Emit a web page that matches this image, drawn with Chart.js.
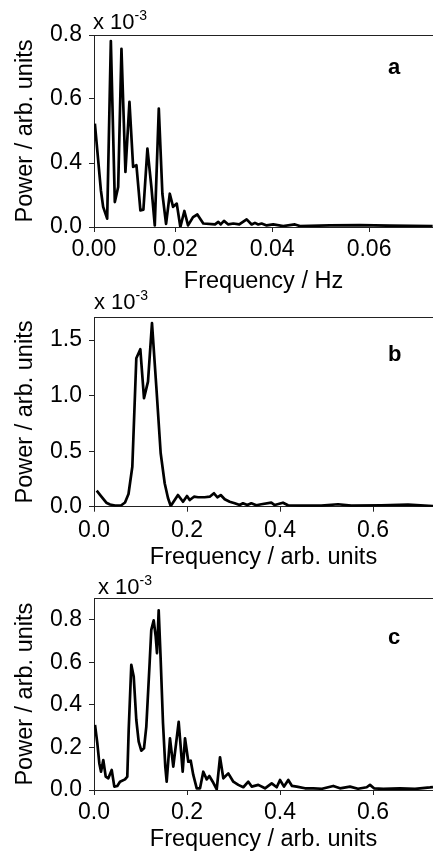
<!DOCTYPE html>
<html><head><meta charset="utf-8">
<script src="https://cdn.jsdelivr.net/npm/chart.js@4/dist/chart.umd.min.js"></script>
<style>
html,body{margin:0;padding:0;background:#fff;width:433px;height:851px;overflow:hidden;position:relative;}
canvas{position:absolute;left:0;}
.t{position:absolute;font-family:"Liberation Sans",Arial,sans-serif;color:#000;white-space:nowrap;line-height:1;}
.m{font-size:22px}
.s{font-size:14px;position:relative;top:-9.5px}
.l{font-size:22px;font-weight:bold}
</style></head><body>
<canvas id="ca" width="433" height="296" style="top:0px"></canvas>
<canvas id="cb" width="433" height="276" style="top:296px"></canvas>
<canvas id="cc" width="433" height="282" style="top:572px"></canvas>
<div class="t m" style="left:93px;top:11.4px">x 10<span class="s">-3</span></div>
<div class="t m" style="left:94px;top:291.4px">x 10<span class="s">-3</span></div>
<div class="t m" style="left:98px;top:576.4px">x 10<span class="s">-3</span></div>
<div class="t l" style="left:388px;top:56.4px">a</div>
<div class="t l" style="left:388px;top:343.4px">b</div>
<div class="t l" style="left:388px;top:626.4px">c</div>
<script>
// ---- Panel a ----
const freqA = [0.00338,0.00462,0.00509,0.00592,0.00668,0.0075,0.00819,0.00887,0.00969,0.01052,0.01128,0.01196,0.01278,0.0134,0.01423,0.01505,0.01575,0.01658,0.01732,0.01808,0.01885,0.01953,0.02029,0.02103,0.02186,0.02262,0.02365,0.02454,0.02577,0.02819,0.02887,0.02936,0.03004,0.03093,0.03196,0.0332,0.03472,0.03575,0.03643,0.03711,0.03781,0.03885,0.04021,0.04227,0.04468,0.04571,0.0519,0.05808,0.06427,0.07313];
const powerA = [0.323,0.115,0.063,0.026,0.581,0.078,0.125,0.557,0.172,0.391,0.188,0.193,0.052,0.054,0.245,0.125,0.005,0.370,0.104,0.010,0.104,0.063,0.073,0.000,0.050,0.005,0.031,0.039,0.011,0.008,0.016,0.008,0.019,0.008,0.011,0.008,0.024,0.008,0.013,0.008,0.011,0.005,0.008,0.003,0.008,0.003,0.005,0.006,0.004,0.003];
const xRangeA = [0.0032, 0.0732];
const xTicksA = [0.0032, 0.02, 0.04, 0.06];
const xTickLabelsA = ['0.00','0.02','0.04','0.06'];
const yMaxA = 0.6;
const yTicksA = [0, 0.2, 0.4, 0.6];
const yTickLabelsA = ['0.0','0.4','0.6','0.8'];

// ---- Panel b ----
const freqB = [0.0058,0.0151,0.0265,0.0344,0.0452,0.0587,0.0667,0.0742,0.0824,0.0910,0.0996,0.1075,0.1161,0.1247,0.1340,0.1434,0.1520,0.1591,0.1650,0.1806,0.1914,0.2000,0.2058,0.2150,0.2237,0.2380,0.2488,0.2580,0.2652,0.2725,0.2811,0.2918,0.3026,0.3133,0.3204,0.3297,0.3383,0.3490,0.3598,0.3813,0.3886,0.4064,0.4172,0.4458,0.4888,0.5247,0.5533,0.6178,0.6753,0.7290];
const powerB = [0.144,0.096,0.036,0.020,0.011,0.013,0.038,0.114,0.360,1.337,1.418,0.977,1.126,1.652,1.081,0.481,0.211,0.078,0.006,0.105,0.045,0.096,0.060,0.090,0.085,0.085,0.090,0.121,0.085,0.105,0.067,0.045,0.031,0.015,0.031,0.015,0.031,0.013,0.022,0.036,0.015,0.036,0.013,0.009,0.009,0.022,0.009,0.013,0.018,0.006];
const xRangeB = [0, 0.729];
const xTicksB = [0, 0.2, 0.4, 0.6];
const xTickLabelsB = ['0.0','0.2','0.4','0.6'];
const yMaxB = 1.705;
const yTicksB = [0, 0.5, 1.0, 1.5];
const yTickLabelsB = ['0.0','0.5','1.0','1.5'];

// ---- Panel c ----
const freqC = [0.0022,0.0071,0.0114,0.0151,0.0200,0.0252,0.0308,0.0381,0.0437,0.0501,0.0559,0.0667,0.0716,0.0746,0.0802,0.0854,0.0910,0.0961,0.1017,0.1075,0.1125,0.1198,0.1232,0.1284,0.1327,0.1355,0.1391,0.1434,0.1484,0.1533,0.1563,0.1634,0.1705,0.1821,0.1907,0.1957,0.2028,0.2080,0.2135,0.2209,0.2280,0.2350,0.2424,0.2480,0.2553,0.2639,0.2710,0.2781,0.2888,0.2996,0.3103,0.3211,0.3318,0.3391,0.3533,0.3677,0.3821,0.3929,0.4000,0.4086,0.4178,0.4258,0.4359,0.4537,0.4716,0.4903,0.5146,0.5290,0.5505,0.5677,0.5864,0.5935,0.6021,0.6221,0.6580,0.6903,0.7226,0.7290];
const powerC = [0.306,0.220,0.126,0.086,0.141,0.063,0.055,0.094,0.016,0.019,0.039,0.050,0.063,0.282,0.588,0.533,0.329,0.227,0.185,0.196,0.298,0.604,0.753,0.797,0.721,0.643,0.844,0.612,0.314,0.110,0.039,0.243,0.110,0.320,0.086,0.243,0.133,0.138,0.071,0.008,0.008,0.086,0.050,0.066,0.039,0.003,0.154,0.055,0.078,0.039,0.024,0.013,0.039,0.016,0.024,0.008,0.031,0.013,0.047,0.016,0.047,0.019,0.016,0.008,0.008,0.006,0.019,0.008,0.016,0.006,0.013,0.024,0.008,0.005,0.008,0.005,0.012,0.014];
const xRangeC = [0, 0.729];
const xTicksC = [0, 0.2, 0.4, 0.6];
const xTickLabelsC = ['0.0','0.2','0.4','0.6'];
const yMaxC = 0.901;
const yTicksC = [0, 0.2, 0.4, 0.6, 0.8];
const yTickLabelsC = ['0.0','0.2','0.4','0.6','0.8'];

const yTitle = 'Power / arb. units';
const xTitleA = 'Frequency / Hz';
const xTitleBC = 'Frequency / arb. units';

const FONT = '"Liberation Sans", Arial, sans-serif';
const AX = '#222';

function makePanel(id, p) {
  const tickFont = {family: FONT, size: 23};
  const titleFont = {family: FONT, size: 23.5};
  return new Chart(document.getElementById(id), {
    type: 'line',
    data: {datasets: [{
      data: p.freq.map((f, i) => ({x: f, y: p.power[i]})),
      borderColor: '#000', borderWidth: 2.7, pointRadius: 0, tension: 0, fill: false,
      borderJoinStyle: 'round', xAxisID: 'x', yAxisID: 'y'
    }]},
    options: {
      responsive: false, animation: false, devicePixelRatio: 1,
      layout: {padding: {top: p.padTop, left: 0, right: 0, bottom: 0}},
      plugins: {legend: {display: false}, tooltip: {enabled: false}},
      scales: {
        x: {
          type: 'linear', position: 'bottom', min: p.xRange[0], max: p.xRange[1],
          afterBuildTicks: s => { s.ticks = p.xTicks.map(v => ({value: v})); },
          afterFit: s => { s.height = p.xHeight; },
          ticks: {autoSkip: false, maxRotation: 0, minRotation: 0, padding: p.xTickPad, color: '#000', font: tickFont,
                  callback: (v, i) => p.xLabels[i]},
          grid: {display: true, drawOnChartArea: false, drawTicks: true, tickLength: 5, tickWidth: 1, tickColor: AX},
          border: {display: true, color: AX, width: 1},
          title: {display: true, text: p.xTitle, color: '#000', font: titleFont, padding: {top: 0, bottom: p.titlePad}}
        },
        x2: {
          type: 'linear', position: 'top', min: p.xRange[0], max: p.xRange[1],
          ticks: {display: false},
          grid: {display: true, drawOnChartArea: false, drawTicks: false},
          border: {display: true, color: AX, width: 1},
          afterFit: s => { s.height = 0; }
        },
        y: {
          type: 'linear', position: 'left', min: 0, max: p.yMax,
          afterBuildTicks: s => { s.ticks = p.yTicks.map(v => ({value: v})); },
          afterFit: s => { s.width = 94; },
          ticks: {padding: 7, color: '#000', font: tickFont, callback: (v, i) => p.yLabels[i]},
          grid: {display: true, drawOnChartArea: false, drawTicks: true, tickLength: 5, tickWidth: 1, tickColor: AX},
          border: {display: true, color: AX, width: 1},
          title: {display: true, text: yTitle, color: '#000', font: titleFont, padding: {top: 11.6, bottom: 0}}
        }
      }
    }
  });
}

makePanel('ca', {freq: freqA, power: powerA, xRange: xRangeA, xTicks: xTicksA, xLabels: xTickLabelsA,
  yMax: yMaxA, yTicks: yTicksA, yLabels: yTickLabelsA, xTitle: xTitleA,
  padTop: 35, xHeight: 69, xTickPad: 3.5, titlePad: 0.5});
makePanel('cb', {freq: freqB, power: powerB, xRange: xRangeB, xTicks: xTicksB, xLabels: xTickLabelsB,
  yMax: yMaxB, yTicks: yTicksB, yLabels: yTickLabelsB, xTitle: xTitleBC,
  padTop: 21.3, xHeight: 65.3, xTickPad: 5.5, titlePad: 0.8});
makePanel('cc', {freq: freqC, power: powerC, xRange: xRangeC, xTicks: xTicksC, xLabels: xTickLabelsC,
  yMax: yMaxC, yTicks: yTicksC, yLabels: yTickLabelsC, xTitle: xTitleBC,
  padTop: 26.3, xHeight: 64, xTickPad: 4, titlePad: 0.5});
</script>
</body></html>
